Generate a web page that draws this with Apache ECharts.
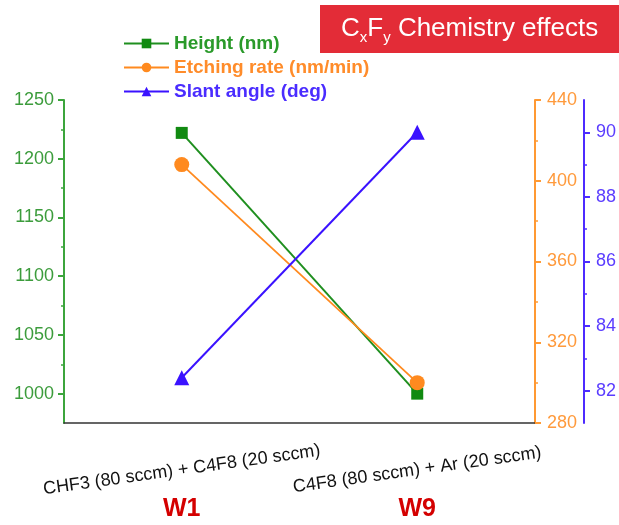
<!DOCTYPE html>
<html>
<head>
<meta charset="utf-8">
<style>html,body{margin:0;padding:0;background:#fff}#c{width:619px;height:525px}</style>
<script src="https://cdn.jsdelivr.net/npm/echarts@6/dist/echarts.min.js"></script>
</head>
<body>
<div id="c"></div>
<script>
const categories = ['CHF3 (80 sccm) + C4F8 (20 sccm)', 'C4F8 (80 sccm) + Ar (20 sccm)'];
const waferLabels = ['W1', 'W9'];
const seriesNames = ['Height (nm)', 'Etching rate (nm/min)', 'Slant angle (deg)'];
const heightNm = [1222, 1000];
const etchRate = [408, 300];
const slantAngle = [82.4, 90.0];
const heightTicks = [1000, 1050, 1100, 1150, 1200, 1250];
const heightMinorTicks = [1025, 1075, 1125, 1175, 1225];
const angleTicks = [82, 84, 86, 88, 90];
const angleMinorTicks = [83, 85, 87, 89];

const FONT = 'Liberation Sans, Arial, Helvetica, sans-serif';
const GREEN = '#118a11', GREEN_AX = '#3ca53c';
const ORANGE = '#ff8a1f', ORANGE_AX = '#ff9933';
const BLUE = '#3a12ff', BLUE_AX = '#4d2bff';
const plain = v => String(v);

const chart = echarts.init(document.getElementById('c'), null, {renderer: 'canvas'});
chart.setOption({
  animation: false,
  textStyle: {fontFamily: FONT},
  grid: {left: 64, right: 78, top: 100, bottom: 102, containLabel: false},
  legend: {
    orient: 'vertical', left: 123, top: 34, padding: 0, itemGap: 5,
    itemWidth: 45, itemHeight: 12,
    textStyle: {fontFamily: FONT, fontSize: 19, fontWeight: 'bold'},
    data: [
      {name: seriesNames[0], textStyle: {color: '#2a9a2a'}},
      {name: seriesNames[1], textStyle: {color: '#ff8c2a'}},
      {name: seriesNames[2], textStyle: {color: '#4a2cff'}}
    ]
  },
  graphic: [
    {type: 'rect', shape: {x: 320, y: 5, width: 299, height: 48}, style: {fill: '#e32c37'}},
    {type: 'text', x: 341, y: 29, style: {
      text: '{a|C}{b|x}{a|F}{b|y}{a| Chemistry effects}',
      verticalAlign: 'middle', fontFamily: FONT,
      rich: {
        a: {fontSize: 26, fill: '#fff', fontFamily: FONT},
        b: {fontSize: 15, fill: '#fff', fontFamily: FONT, verticalAlign: 'bottom', padding: [0, 0, -3, 0]}
      }
    }}
  ],
  xAxis: [
    {
      type: 'category', data: categories, boundaryGap: true, position: 'bottom',
      axisLine: {lineStyle: {color: '#333', width: 1.5}},
      axisTick: {alignWithLabel: true, length: 5, lineStyle: {color: '#333', width: 1.5}},
      axisLabel: {rotate: 8, align: 'center', verticalAlign: 'middle', margin: 47,
        fontSize: 18, color: '#111', fontFamily: FONT},
      splitLine: {show: false}
    },
    {
      type: 'category', data: waferLabels, boundaryGap: true, position: 'bottom',
      axisLine: {show: false}, axisTick: {show: false}, splitLine: {show: false},
      axisLabel: {margin: 86, verticalAlign: 'middle', fontSize: 25, fontWeight: 'bold', color: '#d40000', fontFamily: FONT}
    }
  ],
  yAxis: [
    {
      type: 'value', position: 'left', min: 975, max: 1250,
      axisLine: {show: true, lineStyle: {color: GREEN_AX, width: 2}},
      axisTick: {show: true, length: 6, customValues: heightTicks, lineStyle: {color: GREEN_AX, width: 2}},
      axisLabel: {customValues: heightTicks, formatter: plain, fontSize: 18, color: '#3c9c3c', margin: 10, fontFamily: FONT},
      splitLine: {show: false}
    },
    {
      type: 'value', position: 'left', min: 975, max: 1250,
      axisLine: {show: false},
      axisTick: {show: true, length: 3, customValues: heightMinorTicks, lineStyle: {color: GREEN_AX, width: 1.5}},
      axisLabel: {show: false}, splitLine: {show: false}
    },
    {
      type: 'value', position: 'right', offset: 0, min: 280, max: 440, interval: 40,
      axisLine: {show: true, lineStyle: {color: ORANGE_AX, width: 2}},
      axisTick: {show: true, length: 6, lineStyle: {color: ORANGE_AX, width: 2}},
      minorTick: {show: true, splitNumber: 2, length: 3, lineStyle: {color: ORANGE_AX, width: 1.5}},
      axisLabel: {formatter: plain, fontSize: 18, color: '#ff9a3c', margin: 12, fontFamily: FONT},
      splitLine: {show: false}, minorSplitLine: {show: false}
    },
    {
      type: 'value', position: 'right', offset: 49, min: 81, max: 91,
      axisLine: {show: true, lineStyle: {color: BLUE_AX, width: 2}},
      axisTick: {show: true, length: 6, customValues: angleTicks, lineStyle: {color: BLUE_AX, width: 2}},
      axisLabel: {customValues: angleTicks, formatter: plain, fontSize: 18, color: '#5a3cff', margin: 12, fontFamily: FONT},
      splitLine: {show: false}
    },
    {
      type: 'value', position: 'right', offset: 49, min: 81, max: 91,
      axisLine: {show: false},
      axisTick: {show: true, length: 3, customValues: angleMinorTicks, lineStyle: {color: BLUE_AX, width: 1.5}},
      axisLabel: {show: false}, splitLine: {show: false}
    }
  ],
  series: [
    {
      name: seriesNames[0], type: 'line', xAxisIndex: 0, yAxisIndex: 0, data: heightNm,
      symbol: 'rect', symbolSize: 12, color: GREEN,
      lineStyle: {color: '#1f8f1f', width: 2}, itemStyle: {color: GREEN}
    },
    {
      name: seriesNames[1], type: 'line', xAxisIndex: 0, yAxisIndex: 2, data: etchRate,
      symbol: 'circle', symbolSize: 15, color: ORANGE,
      lineStyle: {color: ORANGE, width: 1.8}, itemStyle: {color: ORANGE}
    },
    {
      name: seriesNames[2], type: 'line', xAxisIndex: 0, yAxisIndex: 3, data: slantAngle,
      symbol: 'triangle', symbolSize: 15, color: BLUE,
      lineStyle: {color: BLUE, width: 2}, itemStyle: {color: BLUE}
    }
  ]
});
</script>
</body>
</html>
